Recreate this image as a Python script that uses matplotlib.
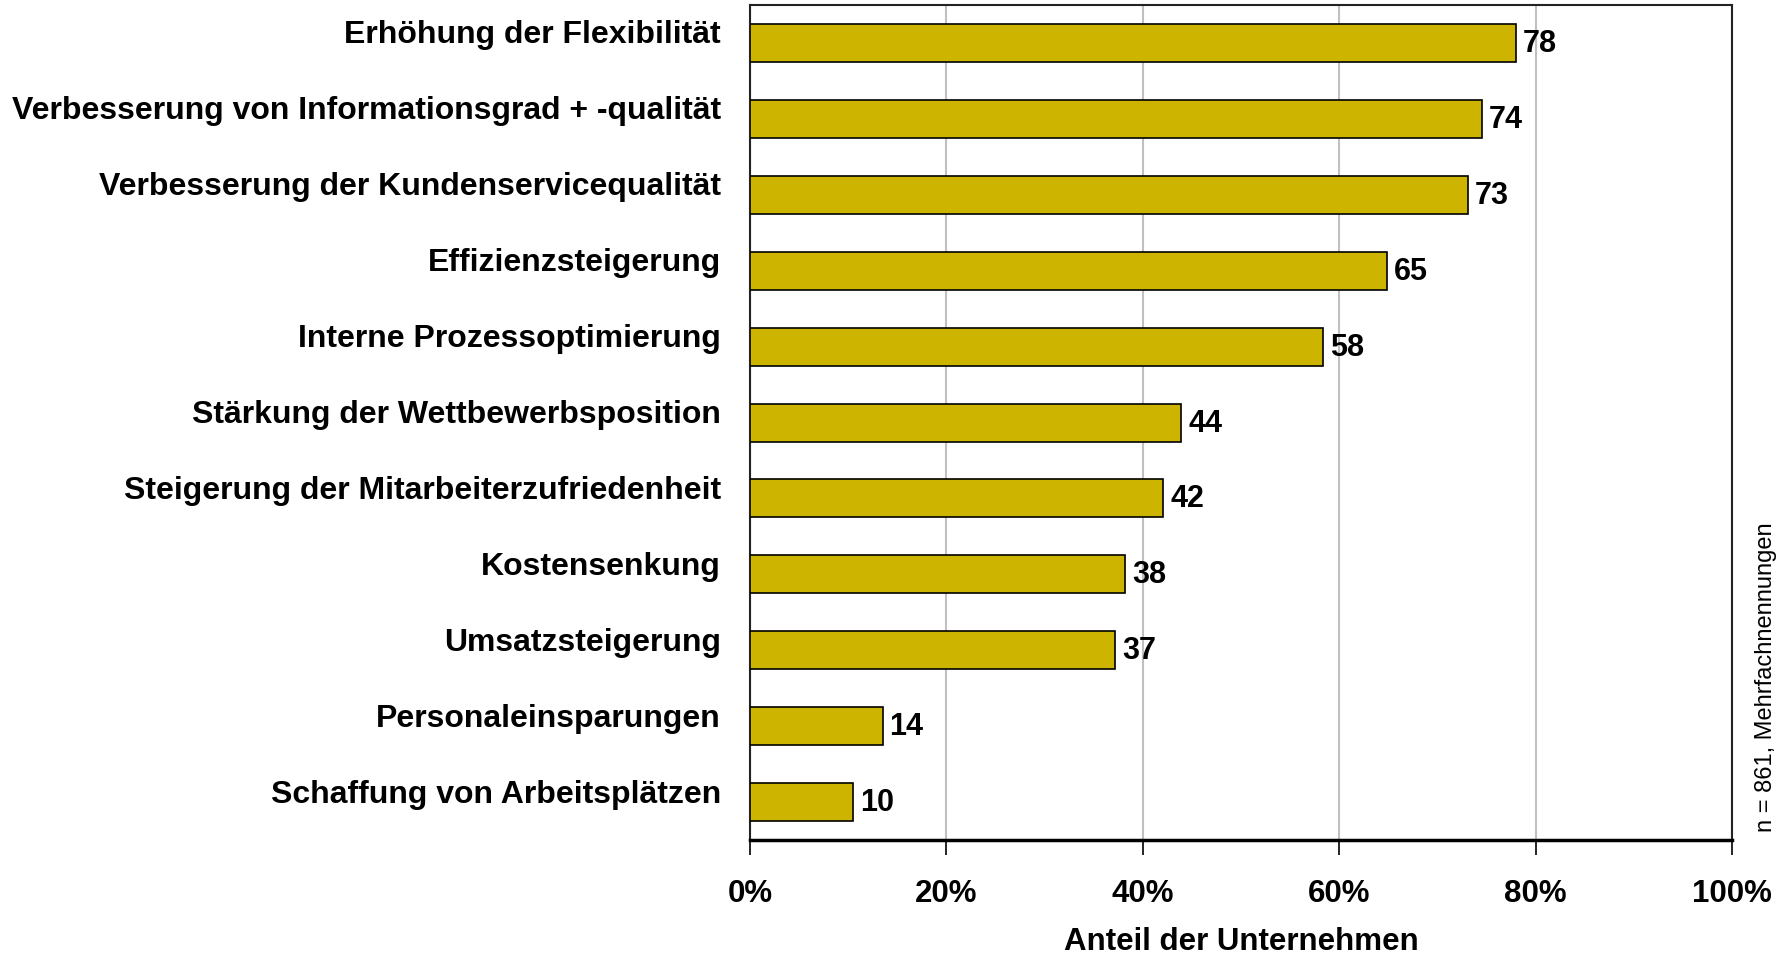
import matplotlib
matplotlib.use("Agg")
import matplotlib.pyplot as plt
import matplotlib.transforms as mtransforms
import numpy as np

categories = ["Erhöhung der Flexibilität",
              "Verbesserung von Informationsgrad + -qualität",
              "Verbesserung der Kundenservicequalität",
              "Effizienzsteigerung",
              "Interne Prozessoptimierung",
              "Stärkung der Wettbewerbsposition",
              "Steigerung der Mitarbeiterzufriedenheit",
              "Kostensenkung",
              "Umsatzsteigerung",
              "Personaleinsparungen",
              "Schaffung von Arbeitsplätzen"]
shares = [78.0, 74.5, 73.1, 64.9, 58.4, 43.9, 42.1, 38.2, 37.2, 13.5, 10.5]
labels = ["78", "74", "73", "65", "58", "44", "42", "38", "37", "14", "10"]
xticks = [0, 20, 40, 60, 80, 100]
xticklabels = ["0%", "20%", "40%", "60%", "80%", "100%"]

plt.rcParams['font.family'] = ['Liberation Sans', 'DejaVu Sans']

fig = plt.figure(figsize=(17.87, 9.54), dpi=100)
ax = fig.add_axes([0.4197, 0.1184, 0.5495, 0.8753])

y = np.arange(len(categories))
ax.barh(y, shares, height=0.5, color="#CCB400", edgecolor="black", linewidth=1.2, zorder=3)
ax.set_ylim(len(categories) - 0.5, -0.5)
ax.set_xlim(0, 100)

ax.set_xticks(xticks)
ax.set_xticklabels(xticklabels, fontsize=22.5, fontweight="bold")
ax.set_yticks(y)
ax.set_yticklabels(categories, fontsize=23, fontweight="bold")
ax.tick_params(axis="y", length=0, pad=21)
ax.tick_params(axis="x", direction="out", length=11, width=1.2, pad=16.5)

# labels sit a bit higher than bar centres
shift = mtransforms.ScaledTranslation(0, 12 / 100, fig.dpi_scale_trans)
for lab in ax.get_yticklabels():
    lab.set_transform(lab.get_transform() + shift)

ax.grid(axis="x", color="#C0C0C0", linewidth=1.5, zorder=0)
ax.set_axisbelow(True)

for s in ["top", "right", "left"]:
    ax.spines[s].set_linewidth(1.5)
    ax.spines[s].set_color("#222222")
ax.spines["bottom"].set_linewidth(2.5)

for yi, v, t in zip(y, shares, labels):
    ax.annotate(t, (v, yi), xytext=(7, 0), textcoords="offset pixels",
                ha="left", va="center", fontsize=22, fontweight="bold", zorder=4)

ax.set_xlabel("Anteil der Unternehmen", fontsize=22.5, fontweight="bold", labelpad=13)

fig.text(0.988, 0.128, "n = 861, Mehrfachnennungen", rotation=90,
         ha="center", va="bottom", fontsize=17)

fig.savefig("out.png", dpi=100)
